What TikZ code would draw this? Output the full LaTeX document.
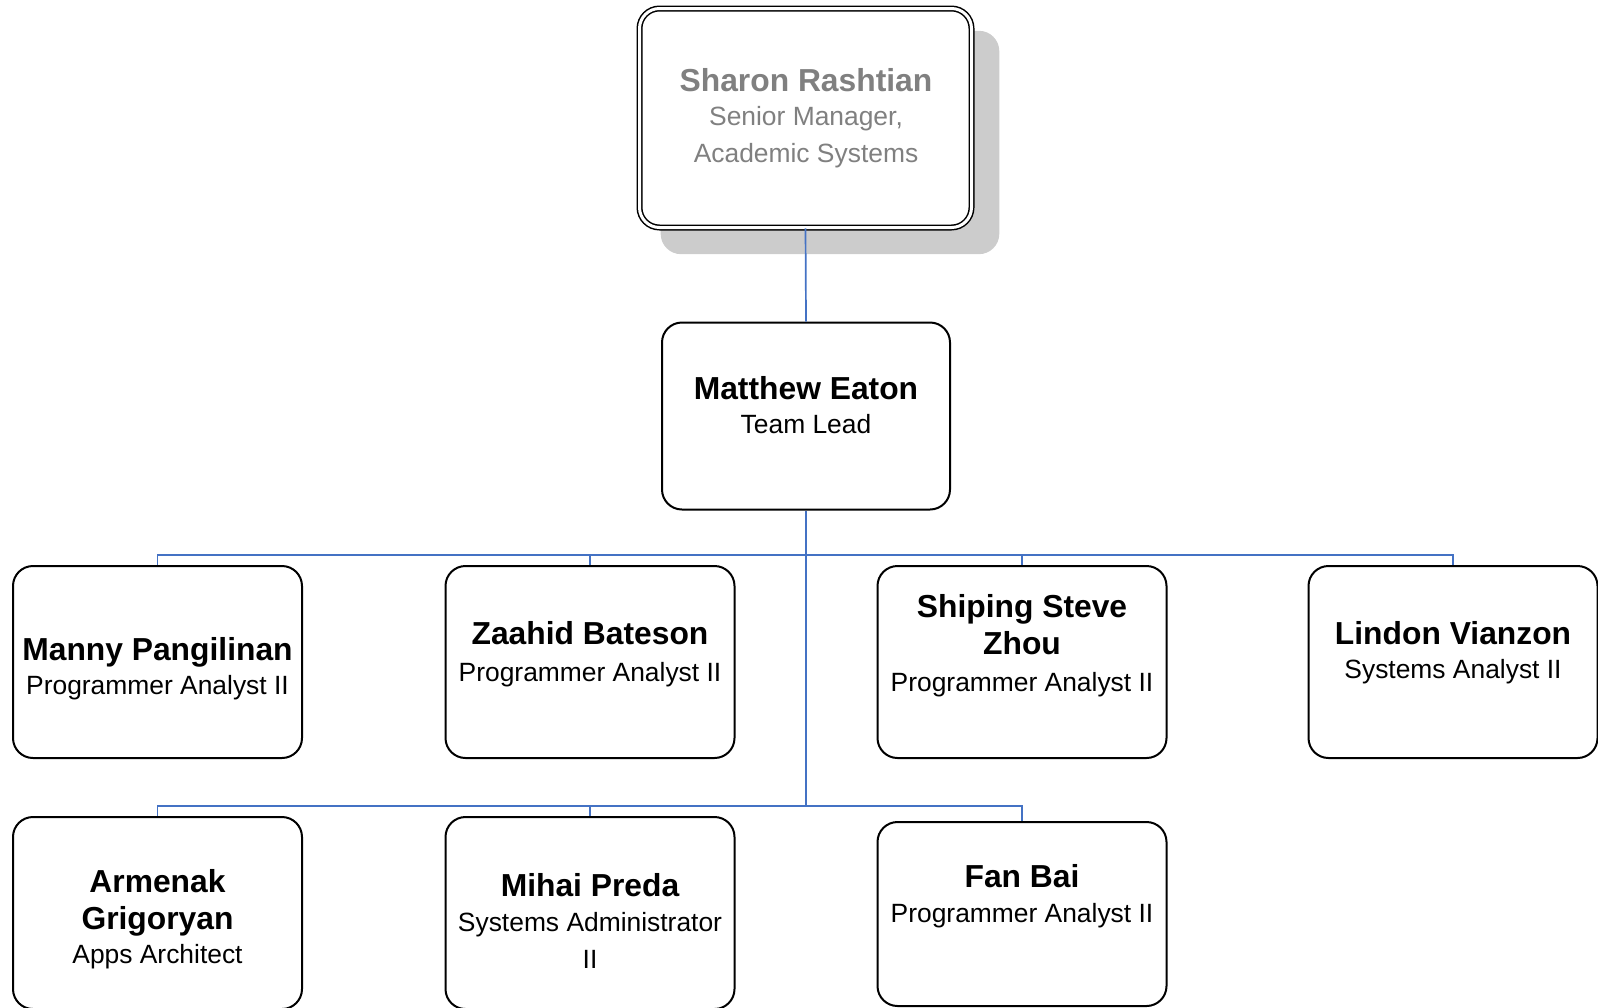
\documentclass[tikz,border=0pt]{standalone}
\usepackage{fontspec}
\setmainfont{Liberation Sans}
\usetikzlibrary{shadows}
\definecolor{linkblue}{RGB}{68,114,196}
\newcommand{\empname}[1]{{\fontsize{15.9}{18.5}\selectfont\bfseries #1}}

\begin{document}
\begin{tikzpicture}[x=0.5pt, y=-0.5pt,
  box/.style={draw, line width=1pt, rounded corners=10pt, fill=white, minimum width=144.5pt, minimum height=96pt},
  txt/.style={align=center, font=\fontsize{13.2}{18.5}\selectfont, inner sep=0pt},
  link/.style={draw=linkblue, line width=0.85pt}]
  \path[use as bounding box, clip] (0,0) rectangle (1598,1007);

  \node[box, line width=0.75pt, double, double distance=1.5pt, minimum width=166pt, minimum height=109.5pt,
        drop shadow={shadow xshift=12pt, shadow yshift=-12pt, shadow scale=1.02, fill=black!20, opacity=1}] (SR) at (805.5,118) {};
  \node[box, minimum width=144pt, minimum height=93.5pt] (ME) at (806,416) {};
  \node[box] (MP)  at (157.5,662) {};
  \node[box] (ZB)  at (590,662) {};
  \node[box] (SSZ) at (1022,662) {};
  \node[box] (LV)  at (1453,662) {};
  \node[box] (AG)  at (157.5,913) {};
  \node[box] (MPR) at (590,913) {};
  \node[box, minimum height=92pt] (FB) at (1022,914) {};

  \node[txt, text=black!50] (SR1) at (806,118) {\empname{Sharon Rashtian}\\[-1.3pt]Senior Manager,\\Academic Systems};
  \node[txt] (ME1)  at (806,405)   {\empname{Matthew Eaton}\\[-1.3pt]Team Lead};
  \node[txt] (MP1)  at (157.5,668.5) {\empname{Manny Pangilinan}\\[-1.3pt]Programmer Analyst II};
  \node[txt] (ZB1)  at (590,654)   {\empname{Zaahid Bateson}\\Programmer Analyst II};
  \node[txt] (SSZ1) at (1022,645.5) {\empname{Shiping Steve}\\\empname{Zhou}\\Programmer Analyst II};
  \node[txt] (LV1)  at (1453,653)  {\empname{Lindon Vianzon}\\[-1.3pt]Systems Analyst II};
  \node[txt] (AG1)  at (157.5,919) {\empname{Armenak}\\\empname{Grigoryan}\\[-1.3pt]Apps Architect};
  \node[txt] (MPR1) at (590,921)   {\empname{Mihai Preda}\\[-1.3pt]Systems Administrator\\II};
  \node[txt] (FB1)  at (1022,896)  {\empname{Fan Bai}\\[-1.3pt]Programmer Analyst II};

  \coordinate (busA) at (806,555);
  \coordinate (busB) at (806,806);

  \draw[link] (SR.south) -- (ME.north);
  \draw[link] (ME.south) -- (busA) -| (MP.north);
  \draw[link] (busA) -| (ZB.north);
  \draw[link] (busA) -| (SSZ.north);
  \draw[link] (busA) -| (LV.north);
  \draw[link] (busA) -- (busB) -| (AG.north);
  \draw[link] (busB) -| (MPR.north);
  \draw[link] (busB) -| (FB.north);
\end{tikzpicture}
\end{document}
